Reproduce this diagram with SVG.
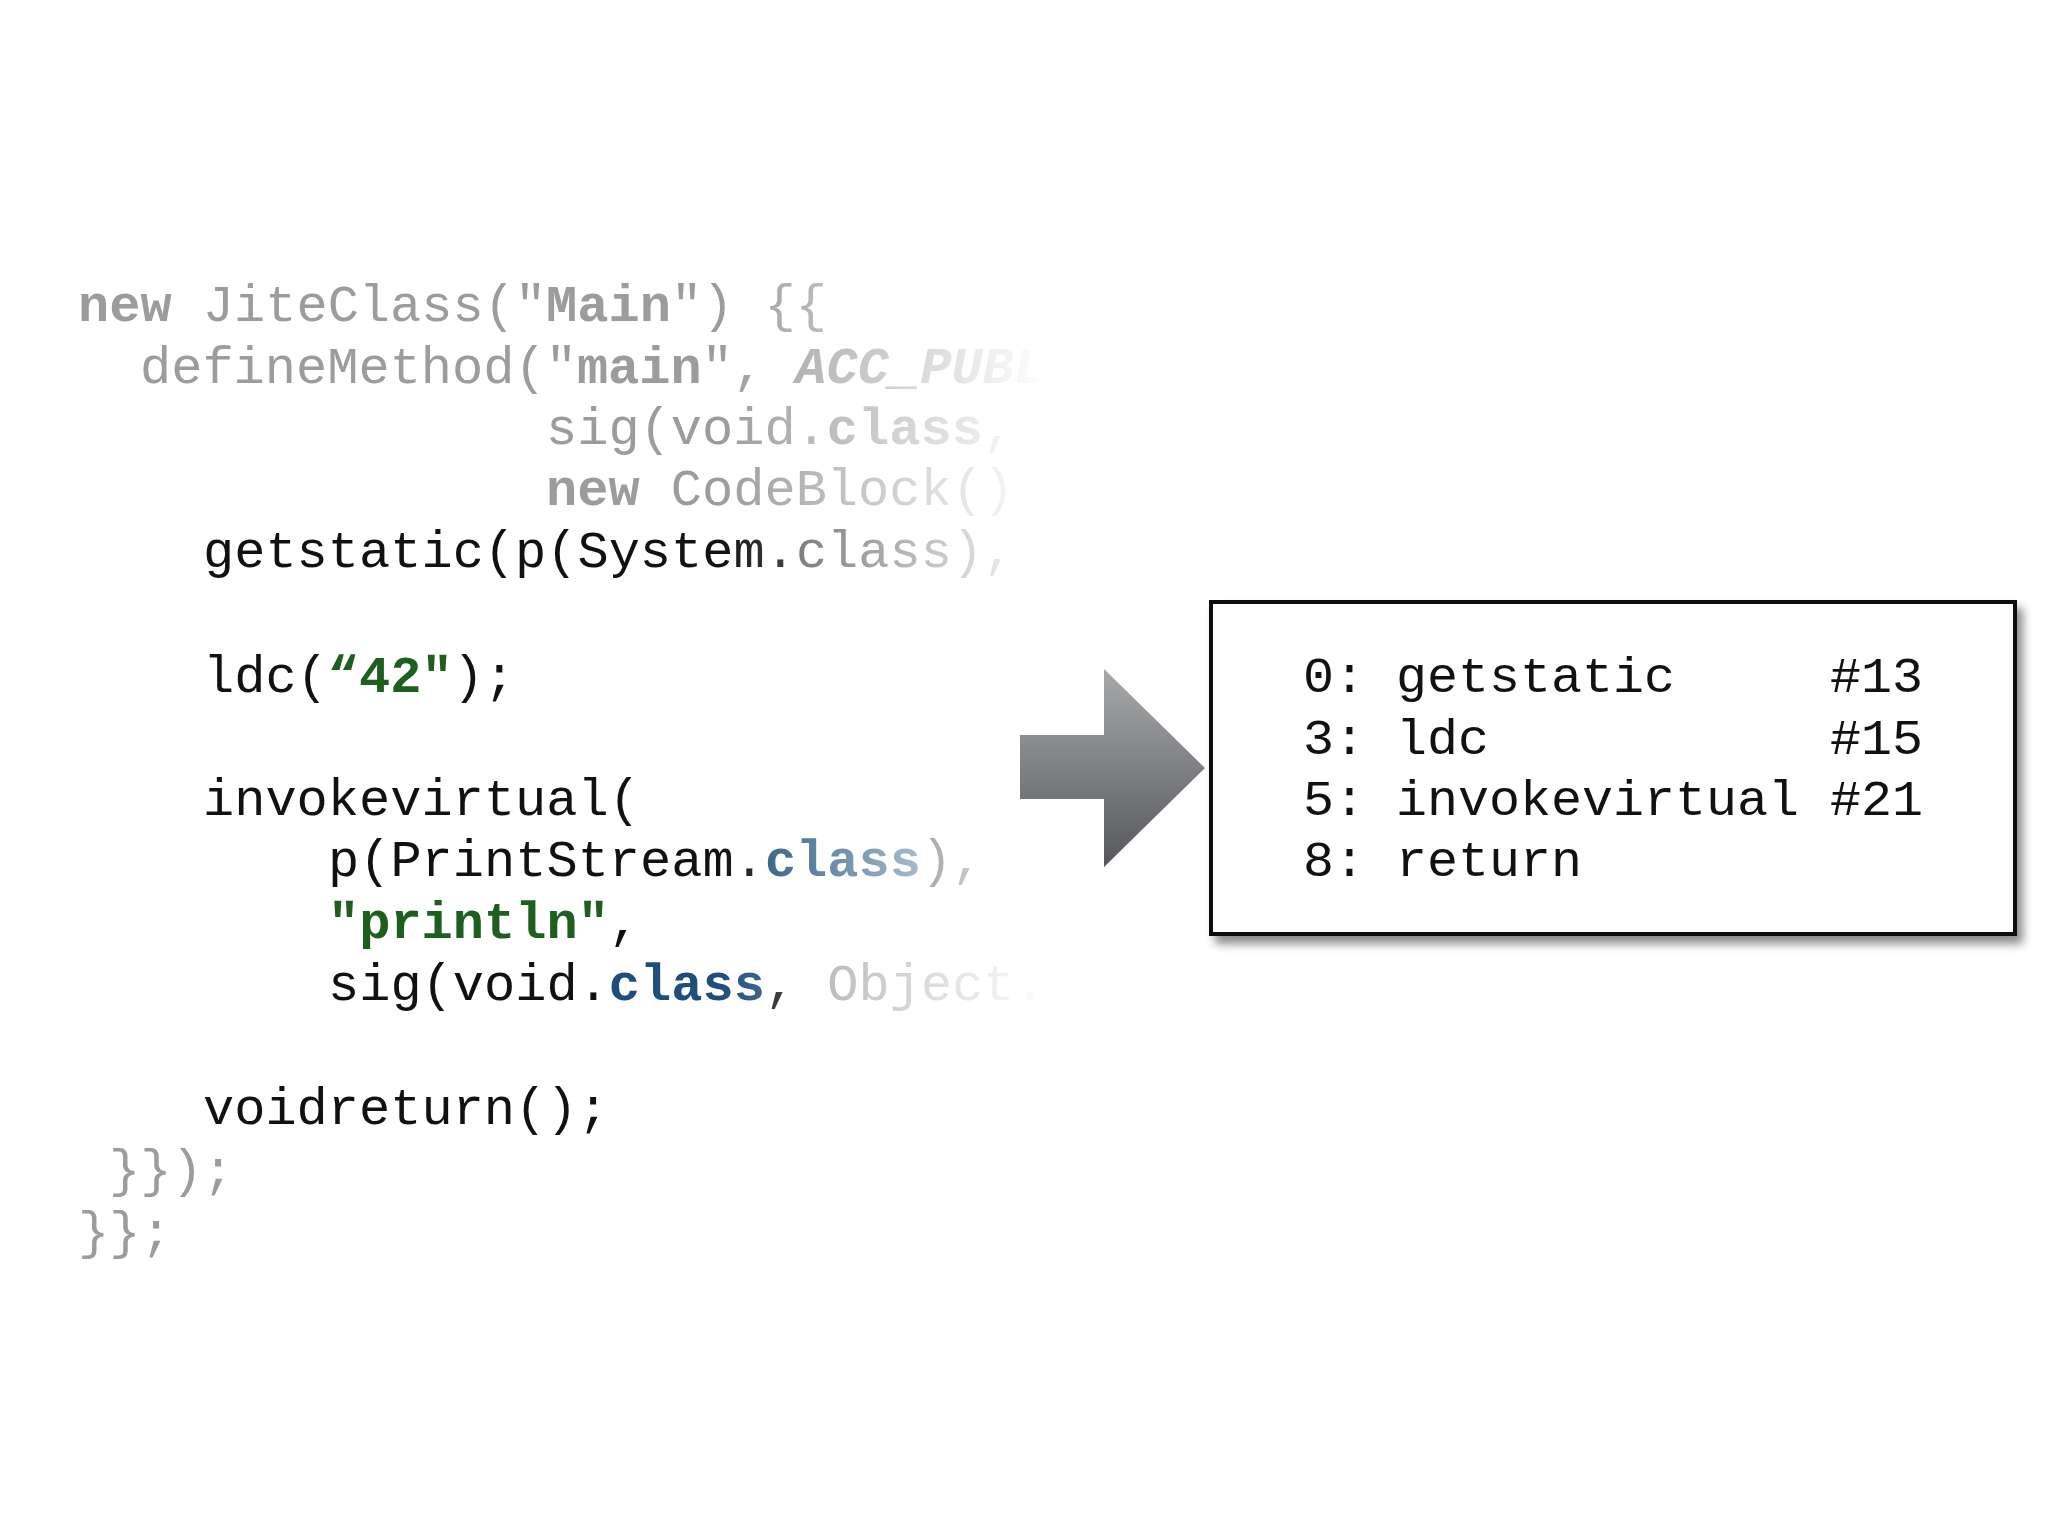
<svg xmlns="http://www.w3.org/2000/svg" width="2048" height="1536" viewBox="0 0 2048 1536">
<defs>
<style>
.c{font-family:"Liberation Mono","Courier New",monospace;font-size:52px;fill:#111}
.g{fill:#9c9c9c}
.b{font-weight:bold}
.gr{fill:#1e5e1e;font-weight:bold}
.bl{fill:#1f4e7a;font-weight:bold}
.o{font-family:"Liberation Mono","Courier New",monospace;font-size:50px;fill:#111}
</style>
<linearGradient id="fade" x1="0" x2="1" y1="0" y2="0">
<stop offset="0" stop-color="#fff" stop-opacity="0"/>
<stop offset="1" stop-color="#fff" stop-opacity="1"/>
</linearGradient>
<linearGradient id="arr" x1="0" x2="0" y1="0" y2="1">
<stop offset="0" stop-color="#a8a9aa"/>
<stop offset="1" stop-color="#55575c"/>
</linearGradient>
<filter id="sh" x="-5%" y="-5%" width="115%" height="120%">
<feDropShadow dx="6" dy="8" stdDeviation="5" flood-color="#000" flood-opacity="0.45"/>
</filter>
</defs>
<rect width="2048" height="1536" fill="#fff"/>
<g id="code" class="c">
<text x="78" y="321" class="g"><tspan class="b">new</tspan> JiteClass("<tspan class="b">Main</tspan>") {{</text>
<text x="140" y="383" class="g">defineMethod("<tspan class="b">main</tspan>", <tspan class="b" font-style="italic">ACC_PUBLIC</tspan></text>
<text x="546" y="444" class="g">sig(void.<tspan class="b">class</tspan>,</text>
<text x="546" y="505" class="g"><tspan class="b">new</tspan> CodeBlock()</text>
<text x="203" y="567">getstatic(p(System.<tspan fill="#555">class),</tspan></text>
<text x="203" y="692">ldc(<tspan class="gr">“42"</tspan>);</text>
<text x="203" y="815">invokevirtual(</text>
<text x="328" y="876">p(PrintStream.<tspan class="bl">class</tspan>),</text>
<text x="328" y="938"><tspan class="gr">"println"</tspan>,</text>
<text x="328" y="1000">sig(void.<tspan class="bl">class</tspan>, <tspan class="g">Object.</tspan></text>
<text x="203" y="1124">voidreturn();</text>
<text x="109" y="1186" class="g">}});</text>
<text x="78" y="1248" class="g">}};</text>
</g>
<rect x="720" y="280" width="325" height="760" fill="url(#fade)"/>
<rect x="1044" y="280" width="170" height="760" fill="#fff"/>
<g id="arrow">
<polygon points="1020,735 1104,735 1104,669 1205,768 1104,867 1104,799 1020,799" fill="url(#arr)"/>
</g>
<g id="bytecode">
<rect x="1211" y="602" width="804" height="332" fill="#fff" stroke="#111" stroke-width="4" filter="url(#sh)"/>
<text class="o" x="1303" y="692" xml:space="preserve" textLength="620" lengthAdjust="spacingAndGlyphs">0: getstatic     #13</text>
<text class="o" x="1303" y="754" xml:space="preserve" textLength="620" lengthAdjust="spacingAndGlyphs">3: ldc           #15</text>
<text class="o" x="1303" y="815" xml:space="preserve" textLength="620" lengthAdjust="spacingAndGlyphs">5: invokevirtual #21</text>
<text class="o" x="1303" y="876" xml:space="preserve" textLength="279" lengthAdjust="spacingAndGlyphs">8: return</text>
</g>
</svg>
